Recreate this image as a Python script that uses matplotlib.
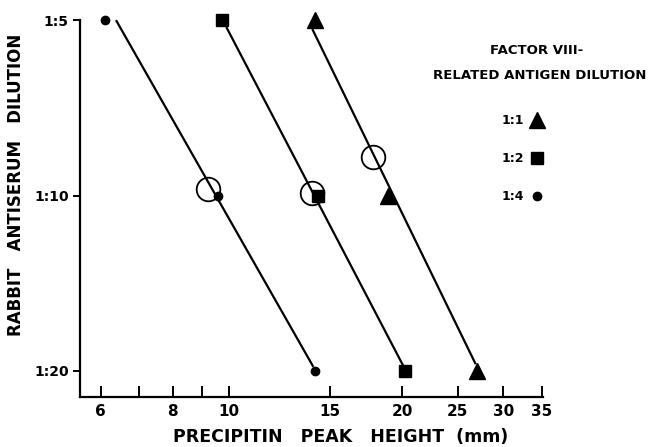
import numpy as np
import matplotlib
matplotlib.use("Agg")
from matplotlib import pyplot as plt
from matplotlib.lines import Line2D
from matplotlib.ticker import FixedLocator, NullFormatter, NullLocator

plt.rcParams['font.family'] = ['DejaVu Sans']
plt.rcParams['font.weight'] = 'bold'
plt.rcParams['axes.labelweight'] = 'bold'

# --- data ---
dilution = [5, 10, 20]                    # rabbit antiserum dilution 1:x
peak_1_1 = [14.1, 18.9, 27.0]             # triangles
peak_1_2 = [9.73, 14.3, 20.2]             # squares
peak_1_4 = [6.1, 9.58, 14.1]              # dots

# fitted lines (endpoints)
fit_1_1_x = [14.0, 26.8]
fit_1_1_y = [5.2, 19.4]
fit_1_2_x = [9.93, 20.1]
fit_1_2_y = [5.16, 19.6]
fit_1_4_x = [6.39, 14.0]
fit_1_4_y = [5.02, 19.6]

# open circles
open_x = [9.2, 13.95, 17.8]
open_y = [9.73, 9.9, 8.6]

xticks_major = [6, 8, 10, 15, 20, 25, 30, 35]
xticks_minor = [7, 9]
ytick_labels = ["1:5", "1:10", "1:20"]

fig = plt.figure(figsize=(6.5, 4.47), dpi=100)
ax = fig.add_axes([0.123, 0.112, 0.712, 0.843])

ax.set_xscale('log')
ax.set_yscale('log')
ax.set_xlim(5.52, 35.1)
ax.set_ylim(22.16, 5)

for fx, fy in [(fit_1_1_x, fit_1_1_y), (fit_1_2_x, fit_1_2_y), (fit_1_4_x, fit_1_4_y)]:
    ax.plot(fx, fy, '-', color='black', lw=1.6, clip_on=False)

ax.plot(peak_1_1, dilution, '^', color='black', ms=11, ls='none', clip_on=False)
ax.plot(peak_1_2, dilution, 's', color='black', ms=9, ls='none', clip_on=False)
ax.plot(peak_1_4, dilution, 'o', color='black', ms=6, ls='none', clip_on=False)
ax.plot(open_x, open_y, 'o', mfc='none', mec='black', mew=1.3, ms=17, ls='none', clip_on=False)

ax.spines['top'].set_visible(False)
ax.spines['right'].set_visible(False)
ax.spines['left'].set_linewidth(1.6)
ax.spines['bottom'].set_linewidth(1.6)

ax.xaxis.set_major_locator(FixedLocator(xticks_major))
ax.xaxis.set_minor_locator(FixedLocator(xticks_minor))
ax.set_xticklabels([str(v) for v in xticks_major])
ax.xaxis.set_minor_formatter(NullFormatter())
ax.tick_params(axis='x', which='both', direction='in', length=8, width=1.4, labelsize=11, pad=5)

ax.yaxis.set_major_locator(FixedLocator(dilution))
ax.yaxis.set_minor_locator(NullLocator())
ax.set_yticklabels(ytick_labels)
ax.tick_params(axis='y', which='major', direction='out', length=5, width=1.4, labelsize=10, pad=3)

ax.set_xlabel("PRECIPITIN   PEAK   HEIGHT  (mm)", fontsize=12.5)
ax.xaxis.set_label_coords(0.564, -0.082)
ax.set_ylabel("RABBIT   ANTISERUM   DILUTION", fontsize=12)
ax.yaxis.set_label_coords(-0.118, 0.562)

fig.text(0.825, 0.888, "FACTOR VIII-", fontsize=9.5, ha='center', va='center')
fig.text(0.83, 0.830, "RELATED ANTIGEN DILUTION", fontsize=9.5, ha='center', va='center')

handles = [Line2D([], [], marker='^', color='black', ls='none', ms=11),
           Line2D([], [], marker='s', color='black', ls='none', ms=9),
           Line2D([], [], marker='o', color='black', ls='none', ms=6)]
ax.legend(handles, ["1:1", "1:2", "1:4"], loc='upper left', bbox_to_anchor=(0.755, 0.77),
          bbox_transform=fig.transFigure, frameon=False, markerfirst=False,
          fontsize=9, labelspacing=2.0, handlelength=1.0, handletextpad=0.5)

plt.savefig("out.png", dpi=100)
